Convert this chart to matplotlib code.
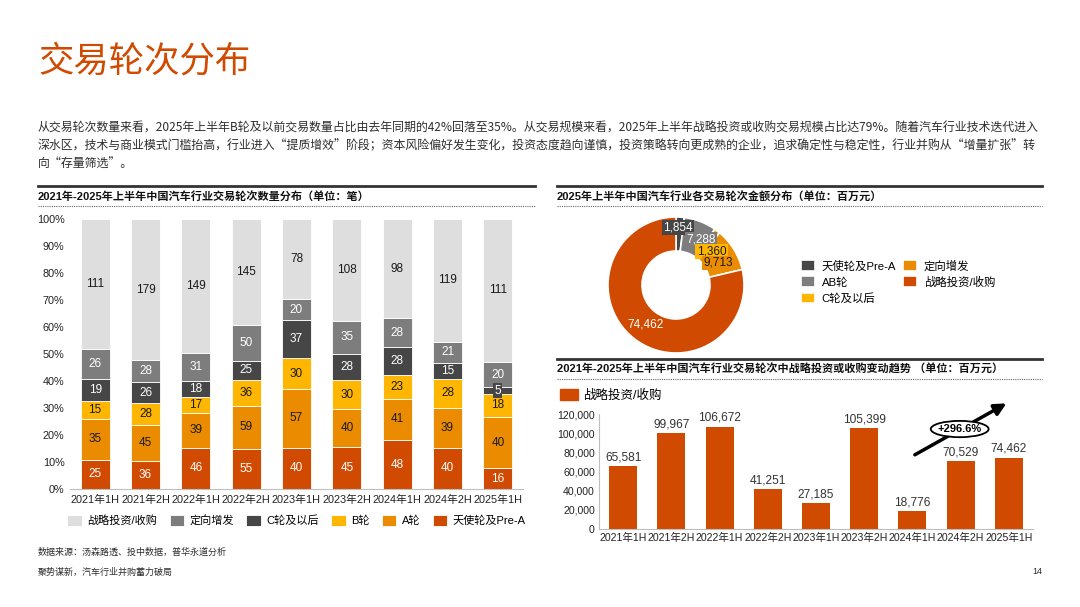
import matplotlib
matplotlib.use('Agg')
import matplotlib.pyplot as plt
from matplotlib.lines import Line2D
from matplotlib.patches import Ellipse, Patch
from matplotlib.ticker import FuncFormatter
import numpy as np

plt.rcParams['font.family'] = ['Liberation Sans', 'Noto Sans CJK SC', 'DejaVu Sans']
plt.rcParams['axes.unicode_minus'] = False

# ---- data ----
periods = ['2021年1H', '2021年2H', '2022年1H', '2022年2H', '2023年1H',
           '2023年2H', '2024年1H', '2024年2H', '2025年1H']
rounds = ['天使轮及Pre-A', 'A轮', 'B轮', 'C轮及以后', '定向增发', '战略投资/收购']
angel = [25, 36, 46, 55, 40, 45, 48, 40, 16]
round_a = [35, 45, 39, 59, 57, 40, 41, 39, 40]
round_b = [15, 28, 17, 36, 30, 30, 23, 28, 18]
round_c = [19, 26, 18, 25, 37, 28, 28, 15, 5]
private = [26, 28, 31, 50, 20, 35, 28, 21, 20]
strategic = [111, 179, 149, 145, 78, 108, 98, 119, 111]

donut_labels = ['天使轮及Pre-A', 'AB轮', 'C轮及以后', '定向增发', '战略投资/收购']
donut_values = [1854, 7288, 1360, 9713, 74462]

trend_name = '战略投资/收购'
trend_values = [65581, 99967, 106672, 41251, 27185, 105399, 18776, 70529, 74462]

# ---- style ----
ORANGE_DK = '#D04A02'
ORANGE = '#EB8C00'
YELLOW = '#FFB600'
DGRAY = '#464646'
MGRAY = '#7D7D7D'
LGRAY = '#DEDEDE'
TXT = '#2D2D2D'

W, H = 1080, 607
fig = plt.figure(figsize=(W / 100, H / 100), dpi=100)


def fx(px):
    return px / W


def fy(py):
    return 1 - py / H


# title + intro
fig.text(fx(38), fy(62), '交易轮次分布', fontsize=25.5, color=ORANGE_DK,
         family=['Noto Sans CJK SC'], fontweight='light', va='center')
intro = ['从交易轮次数量来看，2025年上半年B轮及以前交易数量占比由去年同期的42%回落至35%。从交易规模来看，2025年上半年战略投资或收购交易规模占比达79%。随着汽车行业技术迭代进入',
         '深水区，技术与商业模式门槛抬高，行业进入“提质增效”阶段；资本风险偏好发生变化，投资态度趋向谨慎，投资策略转向更成熟的企业，追求确定性与稳定性，行业并购从“增量扩张”转',
         '向“存量筛选”。']
for i, line in enumerate(intro):
    fig.text(fx(38), fy(128 + 18 * i), line, fontsize=8.6, color=TXT,
             family=['Noto Sans CJK SC', 'DejaVu Sans'], va='center')


def header(x0, x1, y_line, text):
    fig.add_artist(Line2D([fx(x0), fx(x1)], [fy(y_line)] * 2, color='#333333', lw=2))
    fig.text(fx(x0), fy(y_line + 10), text, fontsize=8, fontweight='bold',
             color='#111111', va='center')
    fig.add_artist(Line2D([fx(x0), fx(x1)], [fy(y_line + 20)] * 2, color='#666666',
                          lw=0.8, linestyle=(0, (1, 1))))


header(38, 535, 186, '2021年-2025年上半年中国汽车行业交易轮次数量分布（单位：笔）')
header(557, 1042, 186, '2025年上半年中国汽车行业各交易轮次金额分布（单位：百万元）')
header(557, 1042, 359, '2021年-2025年上半年中国汽车行业交易轮次中战略投资或收购变动趋势 （单位：百万元）')

# ---- left: stacked 100% bars ----
x = np.arange(len(periods))
ax1 = fig.add_axes([fx(70), fy(489), fx(453), 270 / H])
series = [angel, round_a, round_b, round_c, private, strategic]
colors = [ORANGE_DK, ORANGE, YELLOW, DGRAY, MGRAY, LGRAY]
text_colors = ['white', '#1a1a1a', '#1a1a1a', 'white', 'white', '#1a1a1a']
totals = np.sum(series, axis=0)
bottom = np.zeros(len(periods))
handles = []
for vals, col, tc, name in zip(series, colors, text_colors, rounds):
    share = np.array(vals) / totals * 100
    bars = ax1.bar(x, share, 0.58, bottom=bottom, color=col, edgecolor='white',
                   linewidth=0.6, label=name)
    handles.append(bars)
    for xi, s, b, v in zip(x, share, bottom, vals):
        box = dict(boxstyle='square,pad=0.1', fc=col, ec='none') if s < 4 else None
        ax1.text(xi, b + s / 2, str(v), ha='center', va='center', fontsize=8.5,
                 color=tc, bbox=box)
    bottom += share
ax1.set_xlim(-0.5, 8.5)
ax1.set_ylim(0, 100)
ax1.set_yticks(range(0, 101, 10))
ax1.yaxis.set_major_formatter(FuncFormatter(lambda v, p: f'{v:.0f}%'))
ax1.set_xticks(x)
ax1.set_xticklabels(periods)
ax1.tick_params(length=0, labelsize=7.8, colors='#222222', pad=4)
for s in ['top', 'right', 'left']:
    ax1.spines[s].set_visible(False)
ax1.spines['bottom'].set_color('#BFBFBF')
ax1.legend(handles[::-1], rounds[::-1], ncol=6, loc='upper center',
           bbox_to_anchor=(0.5, -0.058), frameon=False, fontsize=8,
           handlelength=1.3, handleheight=1.2, columnspacing=1.1, handletextpad=0.5)

# ---- right top: donut ----
ax2 = fig.add_axes([fx(676 - 68), fy(285 + 68), 136 / W, 136 / H])
dcolors = [DGRAY, MGRAY, YELLOW, ORANGE, ORANGE_DK]
dtext = ['white', 'white', '#1a1a1a', '#1a1a1a', 'white']
wedges, _ = ax2.pie(donut_values, colors=dcolors, startangle=90, counterclock=False,
                    radius=1, wedgeprops=dict(width=0.5, edgecolor='white', linewidth=1.2))
ax2.set_xlim(-1, 1)
ax2.set_ylim(-1, 1)
label_r = [0.84, 0.76, 0.72, 0.70, 0.74]
label_shift = [1.5, -8, -9, -4, 1]
for w, v, col, tc, r, sh in zip(wedges, donut_values, dcolors, dtext, label_r, label_shift):
    ang = np.deg2rad((w.theta1 + w.theta2) / 2 + sh)
    box = dict(boxstyle='square,pad=0.12', fc=col, ec='none') if v < 20000 else None
    ax2.text(r * np.cos(ang), r * np.sin(ang), f'{v:,}', ha='center', va='center',
             fontsize=8.5, color=tc, bbox=box)
fig.legend(wedges, donut_labels, ncol=2, loc='upper left',
           bbox_to_anchor=(fx(791), fy(250)), frameon=False, fontsize=8.2,
           handlelength=1.2, handleheight=1.1, columnspacing=0.6,
           handletextpad=0.6, labelspacing=0.42)

# ---- right bottom: strategic trend ----
ax3 = fig.add_axes([fx(599), fy(529), fx(434), 115 / H])
bars = ax3.bar(x, trend_values, 0.58, color=ORANGE_DK, label=trend_name)
ax3.bar_label(bars, labels=[f'{v:,}' for v in trend_values], padding=2,
              fontsize=8.6, color='#333333')
ax3.set_xlim(-0.5, 8.5)
ax3.set_ylim(0, 120000)
ax3.set_yticks(range(0, 120001, 20000))
ax3.yaxis.set_major_formatter(FuncFormatter(lambda v, p: f'{v:,.0f}'))
ax3.set_xticks(x)
ax3.set_xticklabels(periods)
ax3.tick_params(length=0, labelsize=7.6, colors='#222222', pad=3)
for s in ['top', 'right']:
    ax3.spines[s].set_visible(False)
for s in ['left', 'bottom']:
    ax3.spines[s].set_color('#BFBFBF')
fig.legend([Patch(color=ORANGE_DK)], [trend_name], loc='center left',
           bbox_to_anchor=(fx(549), fy(395)), frameon=False, fontsize=9,
           handlelength=1.4, handleheight=1.0, handletextpad=0.5)

# growth arrow from 2024年1H to 2025年1H
growth = (trend_values[8] / trend_values[6] - 1) * 100
ax3.annotate('', xy=(8.0, 132500), xytext=(6.0, 76000),
             arrowprops=dict(arrowstyle='-|>,head_length=0.7,head_width=0.35',
                             color='black', lw=2.5), annotation_clip=False)
ax3.add_patch(Ellipse((6.98, 104300), 1.2, 17000, fc='white', ec='black', lw=1.3,
                      clip_on=False, zorder=5))
ax3.text(6.98, 104300, f'+{growth:.1f}%', ha='center', va='center', fontsize=8,
         fontweight='bold', zorder=6, clip_on=False)

# footer
fig.text(fx(38), fy(552), '数据来源：汤森路透、投中数据，普华永道分析', fontsize=6.5,
         color=TXT, va='center')
fig.text(fx(38), fy(572), '聚势谋新，汽车行业并购蓄力破局', fontsize=6.5,
         color=TXT, va='center')
fig.text(fx(1042), fy(572), '14', fontsize=6.5, color=TXT, va='center', ha='right')

fig.savefig('out.png', dpi=100)
